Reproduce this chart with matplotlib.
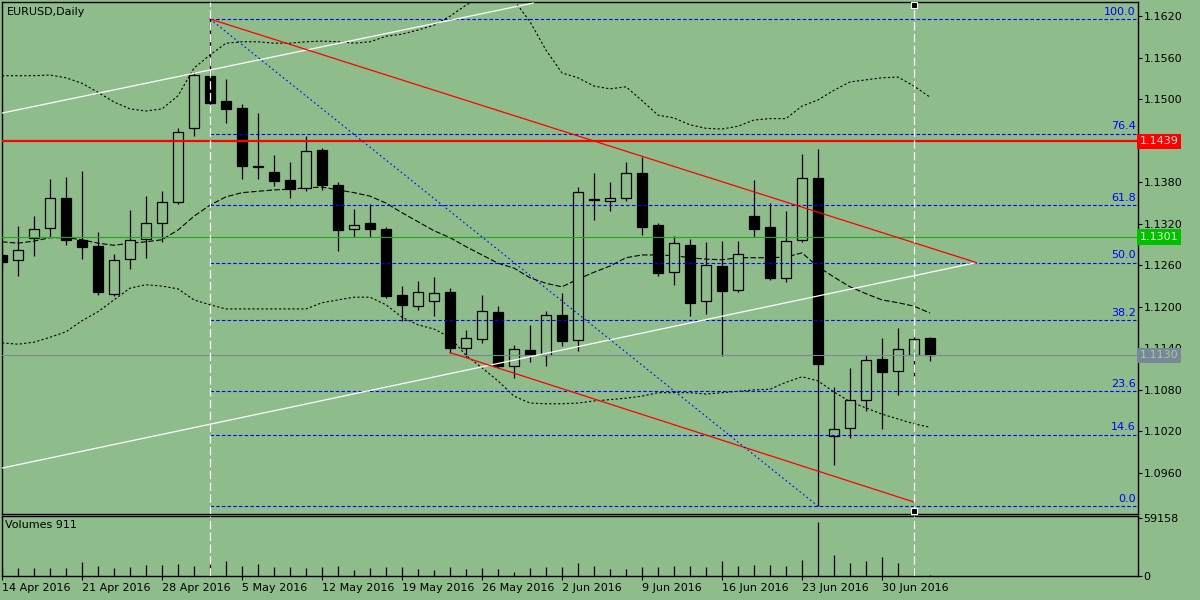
import numpy as np
import matplotlib
matplotlib.use('Agg')
import matplotlib.pyplot as plt

plt.rcParams['lines.scale_dashes'] = False
plt.rcParams['font.family'] = ['DejaVu Sans']

BG = '#8fbc8b'

# daily bars, EURUSD 14 Apr - 5 Jul 2016
opens = [1.1275, 1.1267, 1.1300, 1.1314, 1.1358, 1.1296, 1.1288, 1.1218, 1.1269, 1.1298,
         1.1321, 1.1351, 1.1458, 1.1534, 1.1497, 1.1487, 1.1404, 1.1395, 1.1383, 1.1372,
         1.1427, 1.1376, 1.1312, 1.1321, 1.1313, 1.1217, 1.1201, 1.1208, 1.1221, 1.1140,
         1.1153, 1.1193, 1.1114, 1.1138, 1.1131, 1.1188, 1.1152, 1.1356, 1.1353, 1.1358,
         1.1393, 1.1318, 1.1250, 1.1290, 1.1208, 1.1259, 1.1225, 1.1332, 1.1315, 1.1241,
         1.1296, 1.1386, 1.1013, 1.1025, 1.1065, 1.1124, 1.1107, 1.1130, 1.1155]
highs = [1.1290, 1.1317, 1.1331, 1.1385, 1.1388, 1.1396, 1.1308, 1.1277, 1.1340, 1.1360,
         1.1367, 1.1458, 1.1539, 1.1616, 1.1529, 1.1493, 1.1480, 1.1419, 1.1409, 1.1447,
         1.1429, 1.1380, 1.1341, 1.1349, 1.1315, 1.1230, 1.1237, 1.1243, 1.1227, 1.1167,
         1.1217, 1.1201, 1.1145, 1.1174, 1.1194, 1.1220, 1.1373, 1.1393, 1.1380, 1.1410,
         1.1417, 1.1321, 1.1302, 1.1298, 1.1294, 1.1295, 1.1295, 1.1383, 1.1350, 1.1339,
         1.1421, 1.1428, 1.1084, 1.1112, 1.1130, 1.1155, 1.1170, 1.1161, 1.1156]
lows = [1.1255, 1.1245, 1.1273, 1.1301, 1.1290, 1.1269, 1.1217, 1.1216, 1.1255, 1.1271,
        1.1294, 1.1349, 1.1447, 1.1492, 1.1465, 1.1385, 1.1385, 1.1375, 1.1358, 1.1367,
        1.1369, 1.1281, 1.1301, 1.1301, 1.1213, 1.1180, 1.1196, 1.1187, 1.1134, 1.1128,
        1.1148, 1.1112, 1.1097, 1.1121, 1.1114, 1.1144, 1.1136, 1.1325, 1.1338, 1.1353,
        1.1304, 1.1244, 1.1231, 1.1187, 1.1189, 1.1129, 1.1222, 1.1301, 1.1239, 1.1236,
        1.1294, 1.0912, 1.0971, 1.1010, 1.1050, 1.1023, 1.1072, 1.1095, 1.1122]
closes = [1.1265, 1.1282, 1.1312, 1.1357, 1.1296, 1.1286, 1.1222, 1.1267, 1.1296, 1.1321,
          1.1351, 1.1453, 1.1535, 1.1495, 1.1486, 1.1404, 1.1402, 1.1382, 1.1370, 1.1425,
          1.1376, 1.1311, 1.1319, 1.1313, 1.1215, 1.1202, 1.1222, 1.1220, 1.1140, 1.1155,
          1.1194, 1.1114, 1.1139, 1.1130, 1.1188, 1.1150, 1.1366, 1.1354, 1.1357, 1.1393,
          1.1316, 1.1249, 1.1292, 1.1206, 1.1260, 1.1223, 1.1277, 1.1313, 1.1242, 1.1295,
          1.1386, 1.1118, 1.1023, 1.1065, 1.1123, 1.1106, 1.1139, 1.1153, 1.1130]
volumes = [8000, 8400, 8400, 8400, 8400, 13776, 10080, 7728, 9072, 11088,
           11088, 12096, 10416, 13104, 15120, 10080, 12096, 9072, 9072, 8400,
           9072, 10080, 6384, 8400, 9072, 9072, 7056, 6384, 9072, 7056,
           8400, 7056, 3696, 8400, 9072, 9072, 13104, 10416, 7056, 7056,
           9072, 9072, 10080, 10080, 9072, 15120, 10080, 11088, 11088, 10080,
           16128, 54768, 21168, 13104, 15120, 19152, 13104, 7728, 911]

# Bollinger bands as drawn on the chart
bb_upper = [1.1534, 1.1534, 1.1534, 1.1535, 1.1531, 1.1523, 1.1510, 1.1496, 1.1486, 1.1483,
            1.1486, 1.1505, 1.1545, 1.1564, 1.1581, 1.1583, 1.1583, 1.1581, 1.1581, 1.1583,
            1.1584, 1.1583, 1.1581, 1.1583, 1.1591, 1.1594, 1.1600, 1.1607, 1.1620, 1.1636,
            1.1648, 1.1652, 1.1643, 1.1612, 1.1571, 1.1538, 1.1531, 1.1519, 1.1515, 1.1518,
            1.1498, 1.1477, 1.1473, 1.1463, 1.1458, 1.1457, 1.1461, 1.1470, 1.1472, 1.1472,
            1.1490, 1.1499, 1.1513, 1.1525, 1.1528, 1.1531, 1.1532, 1.1519, 1.1503]
bb_middle = [1.1294, 1.1292, 1.1295, 1.1300, 1.1300, 1.1297, 1.1292, 1.1289, 1.1292, 1.1294,
             1.1297, 1.1311, 1.1331, 1.1347, 1.1359, 1.1365, 1.1367, 1.1369, 1.1370, 1.1372,
             1.1373, 1.1369, 1.1365, 1.1360, 1.1350, 1.1336, 1.1323, 1.1310, 1.1300, 1.1287,
             1.1275, 1.1263, 1.1256, 1.1242, 1.1234, 1.1229, 1.1240, 1.1250, 1.1259, 1.1271,
             1.1275, 1.1275, 1.1274, 1.1271, 1.1269, 1.1268, 1.1271, 1.1271, 1.1271, 1.1272,
             1.1278, 1.1258, 1.1243, 1.1229, 1.1219, 1.1210, 1.1206, 1.1201, 1.1191]
bb_lower = [1.1148, 1.1146, 1.1149, 1.1156, 1.1164, 1.1180, 1.1193, 1.1210, 1.1227, 1.1232,
            1.1230, 1.1226, 1.1210, 1.1203, 1.1197, 1.1197, 1.1197, 1.1197, 1.1197, 1.1197,
            1.1206, 1.1210, 1.1214, 1.1214, 1.1203, 1.1185, 1.1174, 1.1168, 1.1156, 1.1130,
            1.1112, 1.1093, 1.1071, 1.1061, 1.1060, 1.1060, 1.1061, 1.1064, 1.1066, 1.1068,
            1.1071, 1.1076, 1.1076, 1.1076, 1.1074, 1.1076, 1.1078, 1.1080, 1.1081, 1.1091,
            1.1099, 1.1093, 1.1077, 1.1063, 1.1054, 1.1045, 1.1038, 1.1031, 1.1026]

date_labels = ['14 Apr 2016', '21 Apr 2016', '28 Apr 2016', '5 May 2016', '12 May 2016',
               '19 May 2016', '26 May 2016', '2 Jun 2016', '9 Jun 2016', '16 Jun 2016',
               '23 Jun 2016', '30 Jun 2016']
date_bars = [0, 5, 10, 15, 20, 25, 30, 35, 40, 45, 50, 55]

# fibonacci retracement from 3 May high to 24 Jun low
fib_names = ['0.0', '14.6', '23.6', '38.2', '50.0', '61.8', '76.4', '100.0']
fib_prices = [1.0912, 1.1015, 1.1078, 1.1181, 1.1264, 1.1347, 1.1450, 1.1616]
fib_start_bar = 13

# trend lines: (bar, price) anchors
white_top = ([0, 33.2], [1.1480, 1.1639])
white_bottom = ([0, 60.9], [1.0967, 1.1264])
red_top = ([13, 60.9], [1.1616, 1.1264])
red_bottom = ([28, 57], [1.1134, 1.0918])
blue_diag = ([13, 51], [1.1616, 1.0912])
vlines_bars = [13, 57]
anchor_bar = 57
anchor_prices = [1.1636, 1.0905]

levels = {'red': 1.1439, 'green': 1.1301, 'bid': 1.1130}
price_ticks = [1.0960, 1.1020, 1.1080, 1.1140, 1.1200, 1.1260, 1.1320, 1.1380, 1.1440, 1.1500, 1.1560, 1.1620]
# 1.1440 sits under the red price tag, so its label is not shown
price_labels = ['1.0960', '1.1020', '1.1080', '1.1140', '1.1200', '1.1260', '1.1320', '1.1380', '',
                '1.1500', '1.1560', '1.1620']

fig = plt.figure(figsize=(12, 6), dpi=100, facecolor=BG)
ax = fig.add_axes([2 / 1200, 1 - 514 / 600, 1136 / 1200, 512 / 600], facecolor=BG)
axv = fig.add_axes([2 / 1200, 1 - 576 / 600, 1136 / 1200, 60 / 600], facecolor=BG)

bars = np.arange(len(opens))
o = np.array(opens); h = np.array(highs); l = np.array(lows); c = np.array(closes)

# bollinger
ax.plot(bars, bb_upper, color='black', lw=0.8, ls=(0, (1.6, 1.6)), zorder=2)
ax.plot(bars, bb_lower, color='black', lw=0.8, ls=(0, (1.6, 1.6)), zorder=2)
ax.plot(bars, bb_middle, color='black', lw=0.8, ls=(0, (4, 1.6)), zorder=2)

# candles
ax.vlines(bars, l, h, color='black', lw=0.9, zorder=3)
up = c >= o
body_h = np.maximum(np.abs(c - o), 0.00003)
ax.bar(bars[up], body_h[up], bottom=np.minimum(o, c)[up], width=0.62,
       facecolor=BG, edgecolor='black', linewidth=0.9, zorder=4)
ax.bar(bars[~up], body_h[~up], bottom=np.minimum(o, c)[~up], width=0.62,
       facecolor='black', edgecolor='black', linewidth=0.9, zorder=4)

# horizontal levels
ax.axhline(levels['red'], color='#ff0000', lw=1.6, zorder=5)
ax.axhline(levels['green'], color='#1aaa1a', lw=0.8, zorder=5)
ax.axhline(levels['bid'], color='#778899', lw=0.8, zorder=5)

# fibo
for name, p in zip(fib_names, fib_prices):
    ax.hlines(p, fib_start_bar, 80, color='#0000ff', lw=0.8, ls=(0, (2.5, 1.6)), zorder=5)
    ax.text(70.85, p + 0.00035, name, color='#0000ff', fontsize=8, ha='right', va='bottom', zorder=6)

# trend lines
ax.plot(*white_top, color='white', lw=0.9, zorder=5)
ax.plot(*white_bottom, color='white', lw=0.9, zorder=5)
ax.plot(*red_top, color='#ff0000', lw=0.9, zorder=5)
ax.plot(*red_bottom, color='#ff0000', lw=0.9, zorder=5)
ax.plot(*blue_diag, color='#0000ff', lw=0.8, ls=(0, (1.2, 2.0)), zorder=5)

for b in vlines_bars:
    ax.axvline(b, color='white', lw=0.9, ls=(0, (6, 2.5)), zorder=6)
    axv.axvline(b, color='white', lw=0.9, ls=(0, (6, 2.5)), zorder=6)
ax.scatter([anchor_bar] * 2, anchor_prices, marker='s', s=14, facecolor='black',
           edgecolor='white', linewidth=0.8, zorder=7, clip_on=False)

ax.set_xlim(0, 71)
ax.set_ylim(1.09007, 1.16405)
ax.set_xticks([])
ax.yaxis.tick_right()
ax.set_yticks(price_ticks)
ax.set_yticklabels(price_labels)
ax.tick_params(axis='y', direction='out', length=3, width=0.8, pad=1, labelsize=8, colors='black')

# price tags on the axis
tags = [(levels['red'], '#ff0000', '#ffe0e0'), (levels['green'], '#00c000', '#d8ffd8'),
        (levels['bid'], '#778899', '#a9c9a2')]
for p, fc, tc in tags:
    ax.text(1.0015, p, '%.4f' % p, transform=ax.get_yaxis_transform(), ha='left', va='center',
            fontsize=8, color=tc, clip_on=False, zorder=10,
            bbox=dict(boxstyle='square,pad=0.25', fc=fc, ec='none'))

ax.text(0.004, 0.99, 'EURUSD,Daily', transform=ax.transAxes, fontsize=8, ha='left', va='top')

# volumes
axv.vlines(bars, 0, volumes, color='black', lw=0.9)
axv.set_xlim(0, 71)
axv.set_ylim(0, 61198)
axv.yaxis.tick_right()
axv.set_yticks([0, 59158])
axv.set_yticklabels(['0', '59158'])
axv.tick_params(axis='y', direction='out', length=3, width=0.8, pad=1, labelsize=8)
axv.set_xticks(date_bars)
axv.set_xticklabels(date_labels, ha='left', fontsize=8)
axv.tick_params(axis='x', direction='out', length=3, width=0.8, pad=2)
axv.text(0.003, 0.93, 'Volumes 911', transform=axv.transAxes, fontsize=8, ha='left', va='top')

for a in (ax, axv):
    for s in a.spines.values():
        s.set_color('black')
        s.set_linewidth(1.0)

fig.savefig('out.png', dpi=100, facecolor=BG)
